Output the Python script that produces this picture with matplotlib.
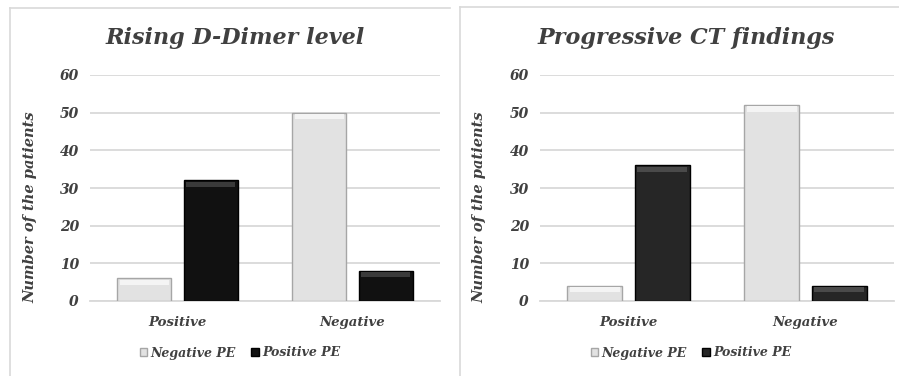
import numpy as np
import matplotlib
matplotlib.use("Agg")
import matplotlib.pyplot as plt
from matplotlib.lines import Line2D

categories = ["Positive", "Negative"]
series_names = ["Negative PE", "Positive PE"]
titles = ["Rising D-Dimer level", "Progressive CT findings"]
ddimer_neg_pe = [6, 50]
ddimer_pos_pe = [32, 8]
ct_neg_pe = [4, 52]
ct_pos_pe = [36, 4]
yticks = [0, 10, 20, 30, 40, 50, 60]

plt.rcParams['font.family'] = ['DejaVu Serif']
txt = "#404040"
font = dict(fontweight='bold', fontstyle='italic', color=txt)

fig = plt.figure(figsize=(8.99, 3.76), dpi=100)
W, H = 899, 376

def fx(px):
    return px / W

def fy(py):
    return 1 - py / H

# panel borders
for (x0, y0, x1) in [(10, 8, 450), (460, 7, 899)]:
    fig.add_artist(Line2D([fx(x0), fx(x0)], [fy(y0), 0], color="#d9d9d9", lw=1.2))
    fig.add_artist(Line2D([fx(x0), fx(x1)], [fy(y0), fy(y0)], color="#d9d9d9", lw=1.2))

panels = [
    dict(ax=[90, 350], data=(ddimer_neg_pe, ddimer_pos_pe), dark="#111111", hi="#3a3a3a",
         title_xy=(235, 38), ylab_x=30, leg_x=240),
    dict(ax=[540, 354], data=(ct_neg_pe, ct_pos_pe), dark="#262626", hi="#4a4a4a",
         title_xy=(686, 38), ylab_x=479, leg_x=691),
]

x = np.arange(len(categories))
bw = 0.31
off = 0.19

for i, p in enumerate(panels):
    left, width = p["ax"]
    ax = fig.add_axes([fx(left), fy(301), fx(width), (301 - 75) / H])
    neg, pos = p["data"]
    ax.bar(x - off, neg, bw, color="#e2e2e2", edgecolor="#a6a6a6", linewidth=1.0, zorder=3)
    ax.bar(x + off, pos, bw, color=p["dark"], edgecolor="#000000", linewidth=1.0, zorder=3)
    # soft bevel on top of bars
    for xs, vals, hc in [(x - off, neg, "#f4f4f4"), (x + off, pos, p["hi"])]:
        for xx, v in zip(xs, vals):
            ax.bar(xx, 1.4, bw * 0.9, bottom=v - 1.7, color=hc, linewidth=0, zorder=4)
    ax.set_xlim(-0.5, 1.5)
    ax.set_ylim(0, 60)
    ax.set_yticks(yticks)
    ax.set_xticks(x)
    ax.set_xticklabels(categories, fontsize=9.5, **font)
    for lab in ax.get_yticklabels():
        lab.set_fontsize(10)
        lab.set_fontweight('bold')
        lab.set_fontstyle('italic')
        lab.set_color(txt)
    ax.tick_params(length=0, pad=8)
    ax.tick_params(axis='x', pad=11)
    ax.grid(axis='y', color="#d9d9d9", lw=1.3, zorder=0)
    for s in ["top", "right", "left"]:
        ax.spines[s].set_visible(False)
    ax.spines["bottom"].set_color("#d9d9d9")
    ax.spines["bottom"].set_linewidth(1.3)

    tx, ty = p["title_xy"]
    fig.text(fx(tx), fy(ty), titles[i], ha='center', va='center', fontsize=16, **font)
    fig.text(fx(p["ylab_x"]), fy(207), "Number of the patients", rotation=90,
             ha='center', va='center', fontsize=10.5, **font)

    handles = [plt.Rectangle((0, 0), 1, 1, fc="#e2e2e2", ec="#a6a6a6"),
               plt.Rectangle((0, 0), 1, 1, fc=p["dark"], ec="#000000")]
    fig.legend(handles, series_names, loc='center', bbox_to_anchor=(fx(p["leg_x"]), fy(353)),
               ncol=2, frameon=False, handlelength=0.6, handleheight=0.6, handletextpad=0.3,
               columnspacing=1.2, prop=dict(family='DejaVu Serif', weight='bold', style='italic', size=9),
               labelcolor=txt)

fig.savefig("out.png", dpi=100, facecolor="white")
